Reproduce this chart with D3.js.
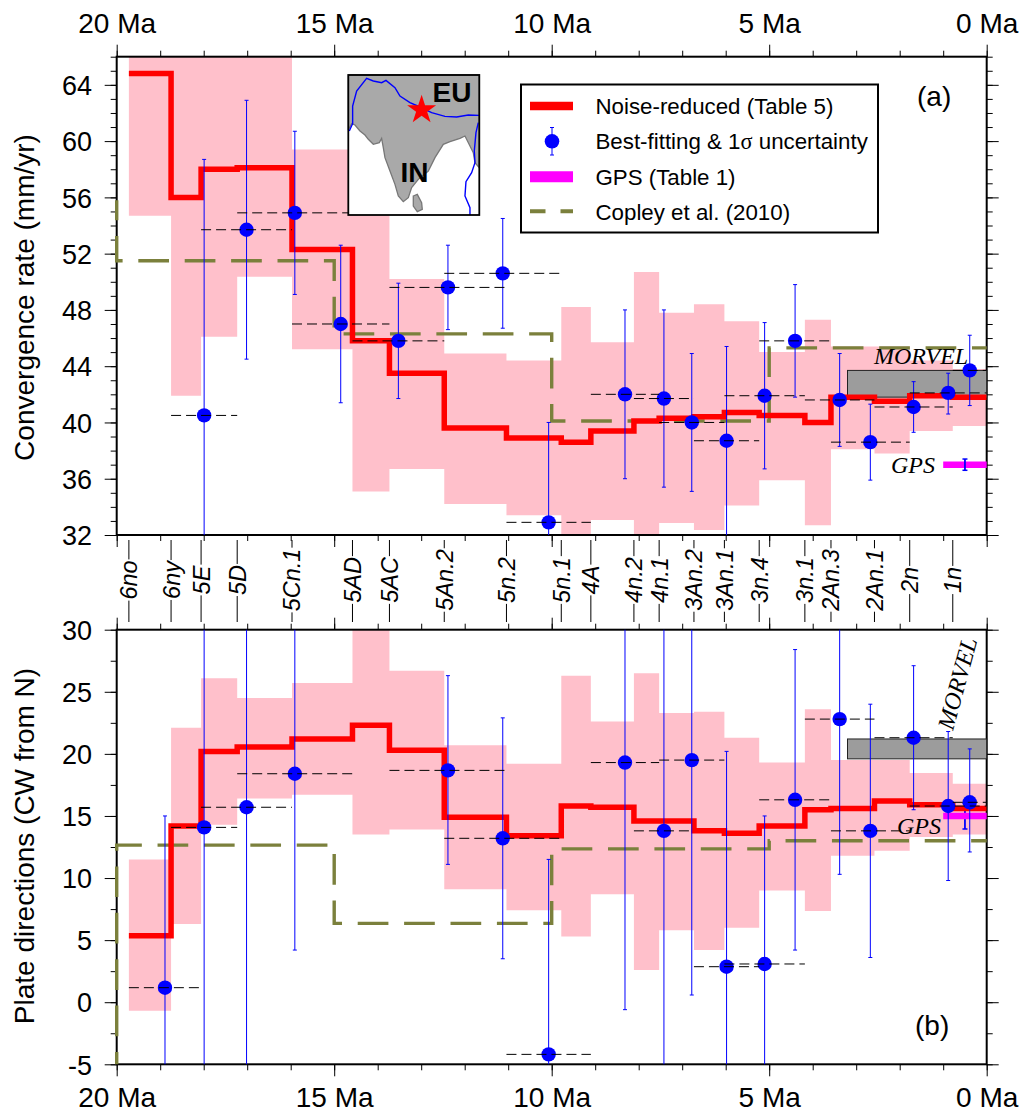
<!DOCTYPE html>
<html>
<head>
<meta charset="utf-8">
<script src="https://d3js.org/d3.v7.min.js"></script>
<style>
  html, body { margin: 0; padding: 0; background: #fff; }
  svg { display: block; font-family: "Liberation Sans", Arial, sans-serif; }
  .serif { font-family: "Liberation Serif", "Times New Roman", serif; font-style: italic; }
</style>
</head>
<body>
<svg id="chart" width="1019" height="1111"></svg>
<script>
// chron boundaries in Ma, oldest first, the last interval ends at 0
const chronNames = ["6no", "6ny", "5E", "5D", "5Cn.1", "5AD", "5AC", "5An.2", "5n.2", "5n.1", "4A",
    "4n.2", "4n.1", "3An.2", "3An.1", "3n.4", "3n.1", "2An.3", "2An.1", "2n", "1n"];
const chronAges = [19.72, 18.75, 18.06, 17.23, 15.97, 14.58, 13.73, 12.47, 11.04, 9.78, 9.10,
    8.11, 7.53, 6.73, 6.03, 5.23, 4.18, 3.58, 2.58, 1.77, 0.78, 0];

// noise-reduced rate and its uncertainty band, one value per stage
const rateSmooth = [64.8, 56.0, 58.0, 58.1, 52.3, 45.8, 43.5, 39.6, 38.9, 38.6, 39.4,
    40.1, 40.3, 40.4, 40.7, 40.5, 40.0, 41.8, 41.5, 41.9, 41.8];
const rateUpper = [66, 66, 66, 66, 59.4, 56.45, 50.2, 44.9, 44.4, 48.2, 45.7,
    50.7, 47.8, 48.4, 47.2, 45.0, 47.3, 45.4, 45.4, 44.4, 43.8];
const rateLower = [54.7, 41.9, 46.1, 50.36, 45.2, 35.1, 36.7, 34.2, 33.4, 32, 33.07,
    32, 32.85, 32.35, 34.1, 35.9, 32.7, 38.1, 37.8, 39.4, 39.75];

// noise-reduced direction and its band
const dirSmooth = [5.35, 14.2, 20.2, 20.55, 21.2, 22.3, 20.3, 14.9, 13.4, 15.8, 15.7,
    14.6, 14.6, 13.8, 13.6, 14.2, 15.5, 15.6, 16.2, 15.9, 15.6];
const dirUpper = [11.5, 22.1, 26.1, 24.5, 25.7, 30, 26.7, 20.7, 19.2, 26.3, 22.6,
    26.5, 23.3, 23.4, 21.3, 19.3, 23.6, 19.5, 19.5, 18.45, 17.6];
const dirLower = [-0.68, 6.3, 14.3, 16.4, 16.7, 13.5, 13.9, 9.1, 7.4, 5.3, 8.7,
    2.6, 5.8, 4.2, 6.0, 9.0, 7.35, 11.8, 12.2, 13.3, 13.5];

// best-fitting poles, each spans several stages: [older age, younger age]
const fitSpans = [[19.72, 18.06], [18.75, 17.23], [18.06, 15.97], [17.23, 14.58], [15.97, 13.73],
    [14.58, 12.47], [13.73, 11.04], [12.47, 9.78], [11.04, 9.10], [9.10, 7.53], [8.11, 6.73],
    [7.53, 6.03], [6.73, 5.23], [6.03, 4.18], [5.23, 3.58], [4.18, 2.58], [3.58, 1.77],
    [2.58, 0.78], [1.77, 0], [0.78, 0]];
const rateFit = [null, 40.5, 53.7, 54.9, 47.0, 45.8, 49.6, 50.6, 32.9, 42.0, 41.7,
    40.0, 38.7, 41.9, 45.8, 41.6, 38.6, 41.1, 42.1, 43.7];
const rateFitHigh = [null, 58.7, 62.9, 60.7, 52.6, 49.9, 52.6, 54.5, 40.0, 48.0, 48.0,
    44.9, 45.4, 47.1, 49.8, 44.9, 41.3, 42.9, 43.5, 46.2];
const rateFitLow = [null, 22.3, 44.5, 49.1, 41.4, 41.7, 46.6, 46.7, 25.8, 36.0, 35.4,
    35.1, 31.9, 36.7, 41.8, 38.3, 35.9, 39.3, 40.6, 41.2];
const dirFit = [1.17, 14.08, 15.7, 18.4, null, null, 18.67, 13.2, -4.2, 19.3, 13.8,
    19.5, 2.86, 3.08, 16.3, 22.8, 13.8, 21.3, 15.8, 16.1];
const dirFitHigh = [15.0, 35, 35, 33, null, null, 26.3, 22.9, 11.5, 39, 33,
    38, 20.2, 15.0, 28.4, 35, 24.0, 27.1, 21.8, 20.4];
const dirFitLow = [-12.7, -7, -7, 4.2, null, null, 11.1, 3.5, -19.9, -0.6, -7,
    0.58, -14, -9, 4.2, 10.3, 3.6, 15.5, 9.8, 12.1];

// Copley et al. (2010) steps
const copleyRate = [[20, 55.8], [20, 51.5], [15, 51.5], [15, 46.3], [10, 46.3], [10, 40.1], [5, 40.1], [5, 45.3], [0, 45.3]];
const copleyDir = [[20, -5], [20, 12.65], [15, 12.65], [15, 6.35], [10, 6.35], [10, 12.35], [5, 12.35], [5, 13], [0, 13]];

// MORVEL box and GPS values
const morvelAges = [3.2, 0];
const morvelRate = [41.8, 43.7];
const morvelDir = [19.6, 21.2];
const gpsAges = [1.0, 0];
const gpsErrAge = 0.5;
const gpsRate = [37.0, 36.6, 37.4];
const gpsDir = [15.0, 13.95, 16.0];

const rateTicks = [32, 36, 40, 44, 48, 52, 56, 60, 64];
const dirTicks = [-5, 0, 5, 10, 15, 20, 25, 30];
const ageTicks = [20, 15, 10, 5, 0];

// inset map outlines, in map units of a 0-393 by 0-420 box
const mapLand = [[0, 165], [10, 146], [20, 150], [35, 168], [50, 180], [60, 193], [75, 208], [93, 203], [100, 190],
    [105, 218], [110, 248], [125, 288], [140, 328], [150, 363], [165, 380], [180, 368], [190, 338], [210, 313],
    [240, 288], [260, 248], [285, 208], [305, 200], [335, 190], [350, 183], [365, 213], [375, 233], [380, 263],
    [393, 278], [393, 0], [0, 0]];
const mapIsland = [[195, 363], [207, 358], [220, 383], [222, 403], [207, 410], [195, 393]];
const mapPlateNorth = [[3, 168], [13, 146], [13, 93], [25, 48], [55, 10], [75, 18], [100, 23], [113, 16], [140, 38],
    [155, 63], [185, 83], [215, 96], [250, 113], [290, 124], [325, 126], [360, 120], [393, 121]];
const mapPlateEast = [[390, 143], [383, 173], [378, 228], [380, 263], [370, 293], [353, 320], [350, 363], [365, 398], [365, 420]];
const mapStar = [220, 105];

const svg = d3.select("#chart");
const width = { left: 116.7, right: 986.7 };
const panelA = { top: 56.7, bottom: 535 };
const panelB = { top: 629.7, bottom: 1064.3 };

const scaleX = d3.scaleLinear().domain([20, 0]).range([width.left, width.right]);
const scaleRate = d3.scaleLinear().domain([32, 66]).range([panelA.bottom, panelA.top]);
const scaleDir = d3.scaleLinear().domain([-5, 30]).range([panelB.bottom, panelB.top]);

const OLIVE = "#7b803c";
const PINK = "#ffc0cb";

// turn per-stage values into step pairs
function steps(values) {
    const out = [];
    values.forEach(function(v, i) {
        out.push([chronAges[i], v]);
        out.push([chronAges[i + 1], v]);
    });
    return out;
}

function addAxes(g, scaleY, major, minor, top, bottom, labelTop) {
    const minorX = d3.range(0, 21);
    g.append("g").attr("transform", "translate(0," + top + ")")
        .call(d3.axisTop(scaleX).tickValues(minorX).tickSize(6).tickFormat(""));
    g.append("g").attr("transform", "translate(0," + bottom + ")")
        .call(d3.axisBottom(scaleX).tickValues(minorX).tickSize(6).tickFormat(""));
    g.append("g").attr("transform", "translate(0," + top + ")")
        .call(d3.axisTop(scaleX).tickValues(ageTicks).tickSize(12).tickPadding(labelTop ? 11.5 : 0)
            .tickFormat(labelTop ? (d => d + " Ma") : ""))
        .selectAll("text").attr("font-size", 28).attr("font-family", "Liberation Sans");
    g.append("g").attr("transform", "translate(0," + bottom + ")")
        .call(d3.axisBottom(scaleX).tickValues(ageTicks).tickSize(12).tickPadding(labelTop ? 0 : 10.8)
            .tickFormat(labelTop ? "" : (d => d + " Ma")))
        .selectAll("text").attr("font-size", 28).attr("font-family", "Liberation Sans");
    g.append("g").attr("transform", "translate(" + width.left + ",0)")
        .call(d3.axisLeft(scaleY).tickValues(minor).tickSize(6).tickFormat(""));
    g.append("g").attr("transform", "translate(" + width.right + ",0)")
        .call(d3.axisRight(scaleY).tickValues(minor).tickSize(6).tickFormat(""));
    // plain hyphen on the negative label, as in the printed figure
    g.append("g").attr("transform", "translate(" + width.left + ",0)")
        .call(d3.axisLeft(scaleY).tickValues(major).tickSize(12).tickPadding(12.7).tickFormat(d => String(d)))
        .selectAll("text").attr("font-size", 27).attr("dy", "0.36em").attr("font-family", "Liberation Sans");
    g.append("g").attr("transform", "translate(" + width.right + ",0)")
        .call(d3.axisRight(scaleY).tickValues(major).tickSize(12).tickFormat(""));
    g.selectAll(".domain").remove();
}

function drawPanel(id, scaleY, opt) {
    const top = scaleY.range()[1], bottom = scaleY.range()[0];
    svg.append("clipPath").attr("id", "clip" + id).append("rect")
        .attr("x", width.left).attr("y", top)
        .attr("width", width.right - width.left).attr("height", bottom - top);

    const g = svg.append("g");
    const plot = () => g.append("g").attr("clip-path", "url(#clip" + id + ")");

    // uncertainty band
    const upper = steps(opt.upper);
    const band = d3.area()
        .x(d => scaleX(d[0]))
        .y1(d => scaleY(d[1]))
        .y0((d, i) => scaleY(steps(opt.lower)[i][1]));
    plot().append("path").attr("d", band(upper)).attr("fill", PINK);

    addAxes(g, scaleY, opt.major, opt.minor, top, bottom, opt.labelTop);
    g.append("rect")
        .attr("x", width.left).attr("y", top)
        .attr("width", width.right - width.left).attr("height", bottom - top)
        .attr("fill", "none").attr("stroke", "#000").attr("stroke-width", 2);

    // MORVEL box
    g.append("rect")
        .attr("x", scaleX(morvelAges[0]))
        .attr("y", scaleY(opt.morvel[1]))
        .attr("width", scaleX(morvelAges[1]) - scaleX(morvelAges[0]))
        .attr("height", scaleY(opt.morvel[0]) - scaleY(opt.morvel[1]))
        .attr("fill", "#9c9c9c").attr("stroke", "#222").attr("stroke-width", 1);

    const line = d3.line().x(d => scaleX(d[0])).y(d => scaleY(d[1]));

    // Copley et al.
    g.append("path").attr("d", line(opt.copley))
        .attr("fill", "none").attr("stroke", OLIVE).attr("stroke-width", 3.4)
        .attr("stroke-dasharray", "30.7,15.7").attr("stroke-dashoffset", opt.copleyOffset);

    function drawGps() {
        g.append("line")
            .attr("x1", scaleX(gpsAges[0])).attr("x2", scaleX(gpsAges[1]))
            .attr("y1", scaleY(opt.gps[0])).attr("y2", scaleY(opt.gps[0]))
            .attr("stroke", "#ff00ff").attr("stroke-width", 6.5);
    }
    function drawGpsErr() {
        const x = scaleX(gpsErrAge);
        g.append("line").attr("x1", x).attr("x2", x)
            .attr("y1", scaleY(opt.gps[1])).attr("y2", scaleY(opt.gps[2]))
            .attr("stroke", "#0000ff").attr("stroke-width", 1.8);
        opt.gps.slice(1).forEach(function(v) {
            g.append("line").attr("x1", x - 2.5).attr("x2", x + 2.5)
                .attr("y1", scaleY(v)).attr("y2", scaleY(v))
                .attr("stroke", "#0000ff").attr("stroke-width", 1.5);
        });
    }
    if (opt.gpsErrOnTop) { drawGps(); drawGpsErr(); } else { drawGpsErr(); drawGps(); }

    // noise-reduced steps
    plot().append("path").attr("d", line(steps(opt.smooth)))
        .attr("fill", "none").attr("stroke", "#ff0000").attr("stroke-width", 5.5)
        .attr("stroke-linejoin", "miter");

    // best-fitting points
    const fits = fitSpans.map(function(s, i) {
        return { old: s[0], young: s[1], mid: (s[0] + s[1]) / 2, v: opt.fit[i], hi: opt.fitHigh[i], lo: opt.fitLow[i] };
    }).filter(d => d.v !== null);

    const layer = plot();
    layer.selectAll(".err").data(fits).enter().append("line")
        .attr("class", "err")
        .attr("x1", d => scaleX(d.mid)).attr("x2", d => scaleX(d.mid))
        .attr("y1", d => scaleY(d.lo)).attr("y2", d => scaleY(d.hi))
        .attr("stroke", "#0000ff").attr("stroke-width", 1);
    ["lo", "hi"].forEach(function(k) {
        layer.selectAll(".cap" + k).data(fits).enter().append("line")
            .attr("class", "cap" + k)
            .attr("x1", d => scaleX(d.mid) - 2).attr("x2", d => scaleX(d.mid) + 2)
            .attr("y1", d => scaleY(d[k])).attr("y2", d => scaleY(d[k]))
            .attr("stroke", "#0000ff").attr("stroke-width", 1);
    });
    layer.selectAll("circle").data(fits).enter().append("circle")
        .attr("cx", d => scaleX(d.mid)).attr("cy", d => scaleY(d.v)).attr("r", 7.2)
        .attr("fill", "#0000ff");
    layer.selectAll(".span").data(fits).enter().append("line")
        .attr("class", "span")
        .attr("x1", d => scaleX(d.old)).attr("x2", d => scaleX(d.young))
        .attr("y1", d => scaleY(d.v)).attr("y2", d => scaleY(d.v))
        .attr("stroke", "#000").attr("stroke-width", 1).attr("stroke-dasharray", "10,5");
    return g;
}

const gA = drawPanel("A", scaleRate, {
    upper: rateUpper, lower: rateLower, smooth: rateSmooth,
    fit: rateFit, fitHigh: rateFitHigh, fitLow: rateFitLow,
    major: rateTicks, minor: d3.range(32, 67), labelTop: true,
    morvel: morvelRate, gps: gpsRate, gpsErrOnTop: true,
    copley: copleyRate, copleyOffset: 10.7
});
const gB = drawPanel("B", scaleDir, {
    upper: dirUpper, lower: dirLower, smooth: dirSmooth,
    fit: dirFit, fitHigh: dirFitHigh, fitLow: dirFitLow,
    major: dirTicks, minor: d3.range(-5, 30.1, 2.5), labelTop: false,
    morvel: morvelDir, gps: gpsDir, gpsErrOnTop: false,
    copley: copleyDir, copleyOffset: 18.4
});

// axis titles
svg.append("text").attr("transform", "translate(34,297.5) rotate(-90)")
    .attr("text-anchor", "middle").attr("font-size", 28).text("Convergence rate (mm/yr)");
svg.append("text").attr("transform", "translate(34,846) rotate(-90)")
    .attr("text-anchor", "middle").attr("font-size", 28).text("Plate directions (CW from N)");

// panel tags
svg.append("text").attr("x", 917).attr("y", 106).attr("font-size", 28).text("(a)");
svg.append("text").attr("x", 915).attr("y", 1035).attr("font-size", 28).text("(b)");

// MORVEL and GPS labels
svg.append("text").attr("class", "serif").attr("x", 874).attr("y", 364).attr("font-size", 24).text("MORVEL");
svg.append("text").attr("class", "serif").attr("x", 891).attr("y", 472.5).attr("font-size", 24).text("GPS");
svg.append("text").attr("class", "serif").attr("x", 897).attr("y", 834).attr("font-size", 24).text("GPS");
svg.append("text").attr("class", "serif").attr("font-size", 24)
    .attr("transform", "translate(953,731) rotate(-75)").text("MORVEL");

// chron labels between the panels
const chronG = svg.append("g");
chronNames.forEach(function(name, i) {
    const x = scaleX(chronAges[i]);
    const label = chronG.append("text")
        .attr("transform", "translate(" + x + ",580) rotate(-90)")
        .attr("text-anchor", "middle").attr("dy", "0.36em")
        .attr("font-size", 23.5).attr("font-style", "italic").text(name);
    const half = label.node().getComputedTextLength() / 2 + 1;
    [[540, 580 - half], [580 + half, 622]].forEach(function(seg) {
        chronG.append("line").attr("x1", x).attr("x2", x)
            .attr("y1", seg[0]).attr("y2", seg[1])
            .attr("stroke", "#000").attr("stroke-width", 1);
    });
});

// legend
const legend = svg.append("g");
legend.append("rect").attr("x", 521).attr("y", 84.5).attr("width", 357).attr("height", 148)
    .attr("fill", "#fff").attr("stroke", "#000").attr("stroke-width", 2);
legend.append("line").attr("x1", 530).attr("x2", 573).attr("y1", 106).attr("y2", 106)
    .attr("stroke", "#ff0000").attr("stroke-width", 8.5);
legend.append("line").attr("x1", 552).attr("x2", 552).attr("y1", 127.5).attr("y2", 155)
    .attr("stroke", "#0000ff").attr("stroke-width", 1);
[127.5, 155].forEach(function(y) {
    legend.append("line").attr("x1", 550).attr("x2", 554).attr("y1", y).attr("y2", y)
        .attr("stroke", "#0000ff").attr("stroke-width", 1);
});
legend.append("circle").attr("cx", 552).attr("cy", 141.3).attr("r", 7.3).attr("fill", "#0000ff");
legend.append("line").attr("x1", 530).attr("x2", 573).attr("y1", 176.7).attr("y2", 176.7)
    .attr("stroke", "#ff00ff").attr("stroke-width", 11);
legend.append("line").attr("x1", 530).attr("x2", 573).attr("y1", 211.3).attr("y2", 211.3)
    .attr("stroke", OLIVE).attr("stroke-width", 4).attr("stroke-dasharray", "15.5,15");
legend.append("text").attr("x", 595.5).attr("y", 114).attr("font-size", 22.3).text("Noise-reduced (Table 5)");
const fitText = legend.append("text").attr("x", 595.5).attr("y", 149).attr("font-size", 22.3);
fitText.append("tspan").text("Best-fitting & 1");
fitText.append("tspan").attr("font-family", "Liberation Serif").text("\u03c3");
fitText.append("tspan").text(" uncertainty");
legend.append("text").attr("x", 595.5).attr("y", 185).attr("font-size", 22.3).text("GPS (Table 1)");
legend.append("text").attr("x", 595.5).attr("y", 220).attr("font-size", 22.3).text("Copley et al. (2010)");

// inset map
const mapX = d3.scaleLinear().domain([0, 393]).range([348.3, 479.3]);
const mapY = d3.scaleLinear().domain([0, 420]).range([75, 215]);
const mapLine = d3.line().x(d => mapX(d[0])).y(d => mapY(d[1]));
const map = svg.append("g");
map.append("rect").attr("x", mapX(0)).attr("y", mapY(0))
    .attr("width", mapX(393) - mapX(0)).attr("height", mapY(420) - mapY(0))
    .attr("fill", "#fff");
[mapLand, mapIsland].forEach(function(poly) {
    map.append("path").attr("d", mapLine(poly) + "Z")
        .attr("fill", "#a9a9a9").attr("stroke", "#777").attr("stroke-width", 1.3);
});
[mapPlateNorth, mapPlateEast].forEach(function(pl) {
    map.append("path").attr("d", mapLine(pl))
        .attr("fill", "none").attr("stroke", "#0000ff").attr("stroke-width", 1.4);
});
map.append("rect").attr("x", mapX(0)).attr("y", mapY(0))
    .attr("width", mapX(393) - mapX(0)).attr("height", mapY(420) - mapY(0))
    .attr("fill", "none").attr("stroke", "#000").attr("stroke-width", 1.8);
map.append("path")
    .attr("d", d3.symbol(d3.symbolStar, 260)())
    .attr("transform", "translate(" + mapX(mapStar[0]) + "," + mapY(mapStar[1]) + ")")
    .attr("fill", "#ff0000");
map.append("text").attr("x", 432.5).attr("y", 101.7).attr("font-size", 28).attr("font-weight", "bold").text("EU");
map.append("text").attr("x", 400.5).attr("y", 182.3).attr("font-size", 28).attr("font-weight", "bold").text("IN");
</script>
</body>
</html>
